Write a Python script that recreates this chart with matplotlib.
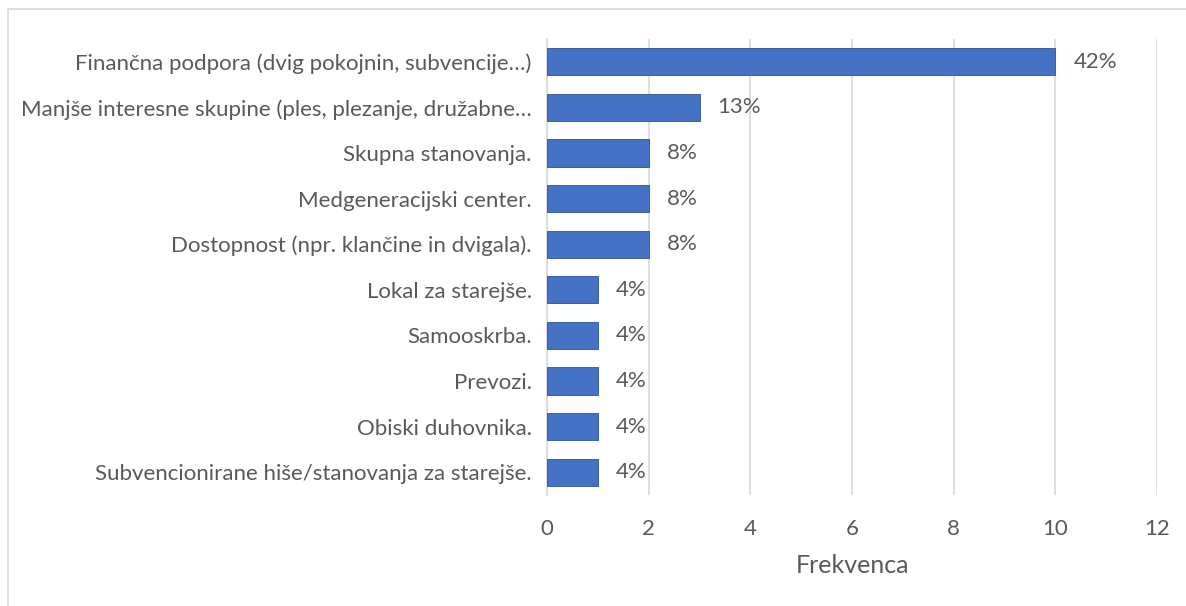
import matplotlib.pyplot as plt
from matplotlib.patches import Rectangle

categories = [
    "Finančna podpora (dvig pokojnin, subvencije…)",
    "Manjše interesne skupine (ples, plezanje, družabne…",
    "Skupna stanovanja.",
    "Medgeneracijski center.",
    "Dostopnost (npr. klančine in dvigala).",
    "Lokal za starejše.",
    "Samooskrba.",
    "Prevozi.",
    "Obiski duhovnika.",
    "Subvencionirane hiše/stanovanja za starejše.",
]
values = [10, 3, 2, 2, 2, 1, 1, 1, 1, 1]
percent_labels = ["42%", "13%", "8%", "8%", "8%", "4%", "4%", "4%", "4%", "4%"]
xticks = [0, 2, 4, 6, 8, 10, 12]

plt.rcParams['font.family'] = ['Lato', 'DejaVu Sans']
text_color = "#595959"
fs = 16

W, H = 1186, 606
fig = plt.figure(figsize=(W / 100, H / 100), dpi=100)
ax = fig.add_axes([547 / W, 1 - 495 / H, (1157 - 547) / W, (495 - 39) / H])

ypos = list(range(len(categories)))
ax.barh(ypos, values, height=0.6, color="#4472C4", edgecolor="#2F528F", linewidth=0.6, zorder=3)
ax.set_ylim(len(categories) - 0.5, -0.5)
ax.set_xlim(0, 12)
ax.set_xticks(xticks)
ax.set_yticks(ypos)
ax.set_yticklabels(categories)

for y, v, lab in zip(ypos, values, percent_labels):
    ax.annotate(lab, (v, y), xytext=(13, 0), textcoords="offset points",
                va="center", ha="left", fontsize=fs, color=text_color)

ax.grid(axis="x", color="#D9D9D9", linewidth=1.2, zorder=0)
for s in ["top", "right", "bottom"]:
    ax.spines[s].set_visible(False)
ax.spines["left"].set_color("#D9D9D9")
ax.spines["left"].set_linewidth(1.2)
ax.tick_params(axis="y", length=0, pad=11, labelsize=fs, labelcolor=text_color)
ax.tick_params(axis="x", length=0, pad=17, labelsize=fs, labelcolor=text_color)
ax.set_xlabel("Frekvenca", fontsize=18, color=text_color, labelpad=11)

fig.patches.append(Rectangle((8 / W, -0.1), 1.2, 1 - 9 / H + 0.1, transform=fig.transFigure,
                             fill=False, edgecolor="#D9D9D9", linewidth=1.2))

fig.savefig("out.png", dpi=100)
